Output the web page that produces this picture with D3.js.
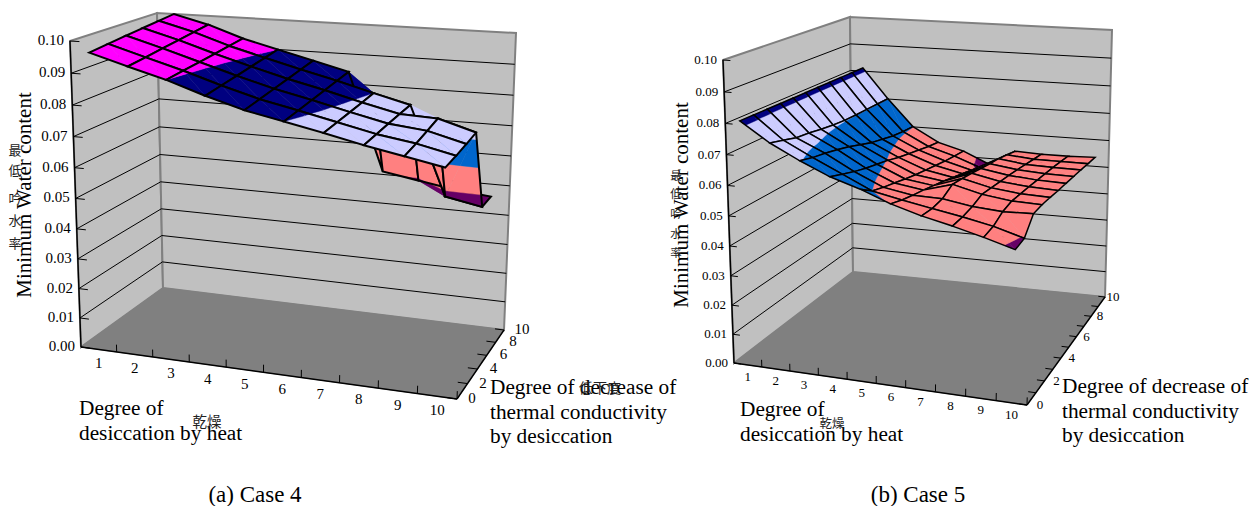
<!DOCTYPE html>
<html>
<head>
<meta charset="utf-8">
<script src="https://cdn.jsdelivr.net/npm/d3@7"></script>
<style>
  body { margin: 0; background: #fff; }
  text { font-family: "Liberation Serif", serif; fill: #000; }
  .cjk { font-family: "Noto Sans CJK JP", sans-serif; fill: #222; }
</style>
</head>
<body>
<script>
// categories and tick labels
const xCategories = [1, 2, 3, 4, 5, 6, 7, 8, 9, 10];
const zTicks = [0, 0.01, 0.02, 0.03, 0.04, 0.05, 0.06, 0.07, 0.08, 0.09, 0.1];
const yLabels = [0, 2, 4, 6, 8, 10];
const case4Series = [0, 2, 4, 6, 8, 10];
const case5Series = [0, 1, 2, 3, 4, 5, 6, 7, 8, 9, 10];

// band colours of the surface
const bandLimits = [0.05, 0.06, 0.07, 0.08, 0.09];
const bandColors = ["#660066", "#ff8080", "#0066cc", "#ccccff", "#000080", "#ff00ff"];

// minimum water content, one row per series, one value per category
const case4Values = [
  [0.0968, 0.0933, 0.0900, 0.0860, 0.0825, 0.0800, 0.0775, 0.0748, 0.0725, 0.0702],
  [0.0975, 0.0940, 0.0906, 0.0868, 0.0834, 0.0808, 0.0781, 0.0754, 0.0735, 0.0708],
  [0.0982, 0.0948, 0.0912, 0.0876, 0.0843, 0.0816, 0.0787, 0.0760, 0.0747, 0.0716],
  [0.0988, 0.0955, 0.0918, 0.0884, 0.0852, 0.0824, 0.0793, 0.0765, 0.0760, 0.0725],
  [0.0994, 0.0963, 0.0924, 0.0892, 0.0861, 0.0832, 0.0800, 0.0770, 0.0478, 0.0455],
  [0.1000, 0.0970, 0.0930, 0.0900, 0.0870, 0.0840, 0.0510, 0.0490, 0.0470, 0.0458]
];
const case5Values = [
  [0.0812, 0.0750, 0.0702, 0.0660, 0.0630, 0.0593, 0.0565, 0.0543, 0.0518, 0.0490],
  [0.0812, 0.0738, 0.0690, 0.0645, 0.0600, 0.0580, 0.0562, 0.0545, 0.0525, 0.0497],
  [0.0812, 0.0725, 0.0682, 0.0630, 0.0587, 0.0570, 0.0568, 0.0552, 0.0545, 0.0548],
  [0.0812, 0.0720, 0.0672, 0.0618, 0.0577, 0.0562, 0.0590, 0.0566, 0.0553, 0.0550],
  [0.0812, 0.0712, 0.0660, 0.0608, 0.0566, 0.0552, 0.0585, 0.0562, 0.0551, 0.0548],
  [0.0812, 0.0706, 0.0645, 0.0598, 0.0556, 0.0542, 0.0578, 0.0558, 0.0549, 0.0545],
  [0.0812, 0.0702, 0.0630, 0.0585, 0.0548, 0.0530, 0.0570, 0.0554, 0.0546, 0.0543],
  [0.0812, 0.0701, 0.0620, 0.0575, 0.0540, 0.0518, 0.0562, 0.0549, 0.0543, 0.0541],
  [0.0812, 0.0701, 0.0610, 0.0565, 0.0532, 0.0506, 0.0556, 0.0543, 0.0540, 0.0539],
  [0.0812, 0.0701, 0.0604, 0.0555, 0.0526, 0.0490, 0.0546, 0.0537, 0.0536, 0.0536],
  [0.0812, 0.0701, 0.0601, 0.0548, 0.0521, 0.0478, 0.0535, 0.0531, 0.0531, 0.0534]
];

// text
const zTitle = "Minimum Water content";
const xTitle = ["Degree of", "desiccation by heat"];
const yTitle = ["Degree of decrease of", "thermal conductivity", "by desiccation"];
const zOverlay = ["最", "低", "吟", "水", "率"];
const xOverlay = "乾燥";
const yOverlay = "低下度";

let svg = null;
let color = null;

main();

function main() {
  svg = d3.select("body").append("svg")
    .attr("width", 1250)
    .attr("height", 506);
  color = d3.scaleThreshold().domain(bandLimits).range(bandColors);

  drawChart({
    series: case4Series, values: case4Values, caption: "(a) Case 4", captionX: 255,
    frame: {
      fl: [81, 347], fr: [457, 399], bl: [163, 288], br: [504, 330],
      flt: [70, 41], frt: [470, 66], blt: [157, 13], brt: [516, 33]
    },
    tickSize: 15, tickDy: 14, cellWidth: 2, yTicks: case4Series,
    zTitlePos: [31, 195], zTitleSize: 21,
    zOverlayPos: [[15, 150], [15, 170], [15, 198], [15, 220], [15, 243]], zOverlaySize: 13,
    xTitlePos: [79, 415], xOverlayPos: [207, 421], xOverlaySize: 14.5,
    yTitlePos: [490, 394], yOverlayPos: [600, 387],
    yLabelDx: [15, 18]
  });

  drawChart({
    series: case5Series, values: case5Values, caption: "(b) Case 5", captionX: 918,
    frame: {
      fl: [734, 363], fr: [1027, 405], bl: [853, 272], br: [1105, 297],
      flt: [723, 60], frt: [1036, 82], blt: [850, 17], brt: [1112, 30]
    },
    tickSize: 13, tickDy: 11, cellWidth: 1.5, yTicks: case5Series,
    zTitlePos: [688, 205], zTitleSize: 21,
    zOverlayPos: [[676, 175], [676, 193], [676, 213], [676, 233], [676, 252]], zOverlaySize: 11.5,
    xTitlePos: [740, 416], xOverlayPos: [832, 423], xOverlaySize: 12.5,
    yTitlePos: [1062, 393], yOverlayPos: null,
    yLabelDx: [13, 8]
  });
}

function drawChart(cfg) {
  const project = makeProjection(cfg.frame);
  const g = svg.append("g");

  appendWalls(g, project);
  appendGridLines(g, project);
  appendSurface(g, project, cfg);
  appendAxes(g, project, cfg);
  appendTitles(g, cfg);
}

// trilinear mapping from data space to the page, with a little perspective on each axis
function makeProjection(f) {
  const xScale = d3.scaleLinear().domain([0.5, 10.5]).range([0, 1]);
  const yScale = d3.scaleLinear().domain([0, 10]).range([0, 1]);
  const zScale = d3.scaleLinear().domain([0, 0.1]).range([0, 1]);
  const cx = 0.06, cy = 0.15, cz = 0.06;

  function plane(a, b, c, d, u, v) {
    const front = d3.interpolateNumberArray(a, b)(u);
    const back = d3.interpolateNumberArray(c, d)(u);
    return d3.interpolateNumberArray(front, back)(v);
  }

  return function (x, y, z) {
    const t = xScale(x), s = yScale(y), r = zScale(z);
    const u = t / (1 + cx * (1 - t));
    const v = s * (1 + cy) / (1 + cy * s);
    const w = r / (1 + cz * (1 - r));
    const floor = plane(f.fl, f.fr, f.bl, f.br, u, v);
    const top = plane(f.flt, f.frt, f.blt, f.brt, u, v);
    return Array.from(d3.interpolateNumberArray(floor, top)(w));
  };
}

function polyPath(points) {
  return d3.line()(points) + "Z";
}

function appendWalls(g, p) {
  const x0 = 0.5, x1 = 10.5;
  g.append("path").attr("fill", "#c0c0c0").attr("stroke", "#808080").attr("stroke-width", 2)
    .attr("d", polyPath([p(x0, 0, 0), p(x0, 10, 0), p(x0, 10, 0.1), p(x0, 0, 0.1)]));
  g.append("path").attr("fill", "#c0c0c0").attr("stroke", "#808080").attr("stroke-width", 2)
    .attr("d", polyPath([p(x0, 10, 0), p(x1, 10, 0), p(x1, 10, 0.1), p(x0, 10, 0.1)]));
  g.append("path").attr("fill", "#808080").attr("stroke", "#808080").attr("stroke-width", 1)
    .attr("d", polyPath([p(x0, 0, 0), p(x1, 0, 0), p(x1, 10, 0), p(x0, 10, 0)]));
}

function appendGridLines(g, p) {
  const levels = zTicks.slice(1, -1);
  g.append("g").selectAll("path")
    .data(levels)
    .enter()
    .append("path")
    .attr("fill", "none")
    .attr("stroke", "#000")
    .attr("stroke-width", 1)
    .attr("d", function (z) {
      return d3.line()([p(0.5, 0, z), p(0.5, 10, z), p(10.5, 10, z)]);
    });
}

// clips a triangle of [x, y, z] points to the part between two levels
function clipBand(tri, lo, hi) {
  function clip(poly, inside, level) {
    const out = [];
    poly.forEach(function (a, i) {
      const b = poly[(i + 1) % poly.length];
      if (inside(a)) out.push(a);
      if (inside(a) !== inside(b)) {
        const k = (level - a[2]) / (b[2] - a[2]);
        out.push([a[0] + k * (b[0] - a[0]), a[1] + k * (b[1] - a[1]), level]);
      }
    });
    return out;
  }
  let poly = clip(tri, function (a) { return a[2] >= lo; }, lo);
  if (poly.length) poly = clip(poly, function (a) { return a[2] <= hi; }, hi);
  return poly;
}

function appendSurface(g, p, cfg) {
  const bands = color.range().map(function (c) {
    const extent = color.invertExtent(c);
    return { lo: extent[0] === undefined ? -1 : extent[0], hi: extent[1] === undefined ? 1 : extent[1], fill: c };
  });
  const surface = g.append("g");
  const toPage = function (q) { return p(q[0], q[1], q[2]); };

  // far series first, then left to right
  for (let j = cfg.series.length - 2; j >= 0; j--) {
    for (let i = 0; i < xCategories.length - 1; i++) {
      const a = [xCategories[i], cfg.series[j], cfg.values[j][i]];
      const b = [xCategories[i + 1], cfg.series[j], cfg.values[j][i + 1]];
      const c = [xCategories[i + 1], cfg.series[j + 1], cfg.values[j + 1][i + 1]];
      const d = [xCategories[i], cfg.series[j + 1], cfg.values[j + 1][i]];
      [[b, c, d], [a, b, d]].forEach(function (tri) {
        bands.forEach(function (band) {
          const piece = clipBand(tri, band.lo, band.hi);
          if (piece.length < 3) return;
          surface.append("path")
            .attr("fill", band.fill)
            .attr("stroke", band.fill)
            .attr("stroke-width", 0.4)
            .attr("d", polyPath(piece.map(toPage)));
        });
      });
      surface.append("path")
        .attr("fill", "none")
        .attr("stroke", "#000")
        .attr("stroke-width", cfg.cellWidth)
        .attr("d", polyPath([a, b, c, d].map(toPage)));
    }
  }
}

function appendAxes(g, p, cfg) {
  const axis = g.append("g");
  const line = d3.line();
  const x0 = 0.5, x1 = 10.5;

  // axis lines
  axis.selectAll("path.edge")
    .data([[p(x0, 0, 0), p(x0, 0, 0.1)], [p(x0, 0, 0), p(x1, 0, 0)], [p(x1, 0, 0), p(x1, 10, 0)]])
    .enter()
    .append("path")
    .attr("class", "edge")
    .attr("fill", "none")
    .attr("stroke", "#000")
    .attr("stroke-width", 1.4)
    .attr("d", line);

  // value axis
  axis.selectAll("path.ztick")
    .data(zTicks)
    .enter()
    .append("path")
    .attr("class", "ztick")
    .attr("fill", "none")
    .attr("stroke", "#000")
    .attr("d", function (z) { return line([p(x0, 0, z), p(x0 + 0.25, 0, z)]); });

  axis.selectAll("text.zlabel")
    .data(zTicks)
    .enter()
    .append("text")
    .attr("class", "zlabel")
    .attr("x", function (z) { return p(x0, 0, z)[0] - 6; })
    .attr("y", function (z) { return p(x0, 0, z)[1] + 4; })
    .attr("text-anchor", "end")
    .style("font-size", cfg.tickSize + "px")
    .text(function (z) { return z.toFixed(2); });

  // category axis, labels sit between the ticks
  axis.selectAll("path.xtick")
    .data(xCategories.map(function (d) { return d + 0.5; }))
    .enter()
    .append("path")
    .attr("class", "xtick")
    .attr("fill", "none")
    .attr("stroke", "#000")
    .attr("d", function (x) { return line([p(x, 0, 0), p(x, 0, 0.0025)]); });

  axis.selectAll("text.xlabel")
    .data(xCategories)
    .enter()
    .append("text")
    .attr("class", "xlabel")
    .attr("x", function (d) { return p(d, 0, 0)[0]; })
    .attr("y", function (d) { return p(d, 0, 0)[1] + cfg.tickDy + 5; })
    .attr("text-anchor", "middle")
    .style("font-size", cfg.tickSize + "px")
    .text(function (d) { return d; });

  // series axis
  axis.selectAll("path.ytick")
    .data(cfg.yTicks)
    .enter()
    .append("path")
    .attr("class", "ytick")
    .attr("fill", "none")
    .attr("stroke", "#000")
    .attr("d", function (y) { return line([p(x1, y, 0), p(x1 - 0.25, y, 0)]); });

  axis.selectAll("text.ylabel")
    .data(yLabels)
    .enter()
    .append("text")
    .attr("class", "ylabel")
    .attr("x", function (y) {
      return p(x1, y, 0)[0] + cfg.yLabelDx[0] + (cfg.yLabelDx[1] - cfg.yLabelDx[0]) * y / 10;
    })
    .attr("y", function (y) { return p(x1, y, 0)[1] + 4; })
    .attr("text-anchor", "middle")
    .style("font-size", cfg.tickSize + "px")
    .text(function (d) { return d; });
}

function appendLines(g, lines, pos, size, leading) {
  g.append("g").selectAll("text")
    .data(lines)
    .enter()
    .append("text")
    .attr("x", pos[0])
    .attr("y", function (d, i) { return pos[1] + i * leading; })
    .style("font-size", size + "px")
    .text(function (d) { return d; });
}

function appendTitles(g, cfg) {
  g.append("text")
    .attr("transform", `translate(${cfg.zTitlePos[0]}, ${cfg.zTitlePos[1]}) rotate(-90)`)
    .attr("text-anchor", "middle")
    .style("font-size", cfg.zTitleSize + "px")
    .text(zTitle);

  g.append("g").selectAll("text")
    .data(zOverlay)
    .enter()
    .append("text")
    .attr("class", "cjk")
    .attr("x", function (d, i) { return cfg.zOverlayPos[i][0]; })
    .attr("y", function (d, i) { return cfg.zOverlayPos[i][1] + cfg.zOverlaySize * 0.4; })
    .attr("text-anchor", "middle")
    .style("font-size", cfg.zOverlaySize + "px")
    .text(function (d) { return d; });

  appendLines(g, xTitle, cfg.xTitlePos, 21.3, 24.5);
  g.append("text")
    .attr("class", "cjk")
    .attr("x", cfg.xOverlayPos[0])
    .attr("y", cfg.xOverlayPos[1] + cfg.xOverlaySize * 0.4)
    .attr("text-anchor", "middle")
    .style("font-size", cfg.xOverlaySize + "px")
    .text(xOverlay);

  appendLines(g, yTitle, cfg.yTitlePos, 21.3, 24.5);
  if (cfg.yOverlayPos) {
    g.append("text")
      .attr("class", "cjk")
      .attr("x", cfg.yOverlayPos[0])
      .attr("y", cfg.yOverlayPos[1] + 5.5)
      .attr("text-anchor", "middle")
      .style("font-size", "14px")
      .text(yOverlay);
  }

  g.append("text")
    .attr("x", cfg.captionX)
    .attr("y", 502)
    .attr("text-anchor", "middle")
    .style("font-size", "23px")
    .text(cfg.caption);
}
</script>
</body>
</html>
